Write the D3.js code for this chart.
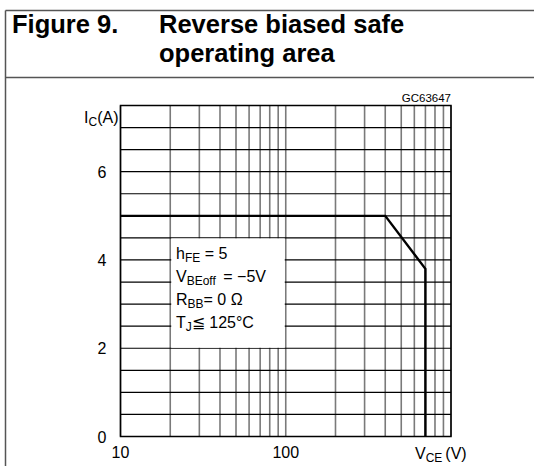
<!DOCTYPE html>
<html><head><meta charset="utf-8">
<script src="https://cdn.jsdelivr.net/npm/d3@7"></script>
<style>body{margin:0;background:#fff}svg{display:block}</style>
</head><body>
<script>
// ---- data ----
const soaVoltage = [10, 400, 700, 700];   // V_CE (V)
const soaCurrent = [5, 5, 3.8, 0];        // I_C (A)
const xTickLabels = [10, 100];
const yTickLabels = [0, 2, 4, 6];
const xGridValues = [10,20,30,40,50,60,70,80,90,100,200,300,400,500,600,700,800,900,1000];
const yGridValues = [0,0.5,1,1.5,2,2.5,3,3.5,4,4.5,5,5.5,6,6.5,7,7.5];
const noteBox = {v0: 20, v1: 100, i0: 2.0, i1: 4.5};

const W = 534, H = 466;
const svg = d3.select("body").append("svg").attr("width", W).attr("height", H);
const font = "'Liberation Sans', Arial, sans-serif";

// frame of figure
svg.append("line").attr("x1",5.5).attr("x2",W).attr("y1",10.5).attr("y2",10.5).attr("stroke","#555").attr("stroke-width",1.5);
svg.append("line").attr("x1",5.5).attr("x2",W).attr("y1",77.5).attr("y2",77.5).attr("stroke","#555").attr("stroke-width",1.5);
svg.append("line").attr("x1",5.5).attr("x2",5.5).attr("y1",10.5).attr("y2",H).attr("stroke","#555").attr("stroke-width",1.5);

// title
const t = svg.append("g").attr("font-family", font).attr("font-weight","bold").attr("font-size",25.5).attr("fill","#000");
t.append("text").attr("x",12).attr("y",33).text("Figure 9.");
t.append("text").attr("x",159).attr("y",33).text("Reverse biased safe");
t.append("text").attr("x",159).attr("y",62).text("operating area");

// scales
const x = d3.scaleLog().domain([10, 1000]).range([120.5, 451]);
const y = d3.scaleLinear().domain([0, 7.5]).range([436.5, 105.5]);

// vertical grid
svg.append("g").selectAll("line").data(xGridValues).join("line")
  .attr("x1", d => x(d)).attr("x2", d => x(d))
  .attr("y1", y(0)).attr("y2", y(7.5))
  .attr("stroke", "#7a7a7a").attr("stroke-width", 1.6);
// horizontal grid
svg.append("g").selectAll("line").data(yGridValues).join("line")
  .attr("x1", x(10)).attr("x2", x(1000))
  .attr("y1", d => y(d)).attr("y2", d => y(d))
  .attr("stroke", "#000").attr("stroke-width", 1.2);

// frame
svg.append("rect").attr("x", x(10)).attr("y", y(7.5))
  .attr("width", x(1000) - x(10)).attr("height", y(0) - y(7.5))
  .attr("fill","none").attr("stroke","#000").attr("stroke-width",1.5);

// note box
svg.append("rect").attr("x", x(noteBox.v0)+1).attr("y", y(noteBox.i1)+0.5)
  .attr("width", x(noteBox.v1) - x(noteBox.v0) - 2).attr("height", y(noteBox.i0) - y(noteBox.i1) - 1)
  .attr("fill","#fff");

// SOA curve
const line = d3.line().x(d => x(d[0])).y(d => y(d[1]));
svg.append("path").datum(soaVoltage.map((v,i)=>[v, soaCurrent[i]]))
  .attr("d", line).attr("fill","none").attr("stroke","#000").attr("stroke-width",2.4);

// tick labels
const lab = svg.append("g").attr("font-family", font).attr("font-size",16).attr("fill","#000");
lab.selectAll("text.yt").data(yTickLabels).join("text").attr("class","yt")
  .attr("x", 102).attr("y", d => y(d) + 6).attr("text-anchor","middle").text(d => d);
lab.selectAll("text.xt").data(xTickLabels).join("text").attr("class","xt")
  .attr("x", d => x(d)).attr("y", 458).attr("text-anchor","middle").text(d => d);

// axis titles
const ic = lab.append("text").attr("x", 84).attr("y", 123);
ic.append("tspan").text("I");
ic.append("tspan").attr("font-size",12).attr("dy",3).text("C");
ic.append("tspan").attr("dy",-3).text("(A)");

const vce = lab.append("text").attr("x", 415).attr("y", 459);
vce.append("tspan").text("V");
vce.append("tspan").attr("font-size",12).attr("dy",3).text("CE");
vce.append("tspan").attr("dy",-3).attr("dx",3).text("(V)");

svg.append("text").attr("x", 451).attr("y", 102).attr("text-anchor","end")
  .attr("font-family", font).attr("font-size", 11.5).attr("fill","#000").text("GC63647");

// note text
const nt = lab.append("g");
function sub(yy, main, subs, rest, gap){
  const tx = nt.append("text").attr("x", 176).attr("y", yy);
  tx.append("tspan").text(main);
  tx.append("tspan").attr("font-size",12).attr("dy",3).text(subs);
  tx.append("tspan").attr("dy",-3).attr("dx", gap || 0).text(rest);
}
sub(259, "h", "FE", " = 5");
sub(282, "V", "BEoff", " =  \u22125V", 3);
sub(305, "R", "BB", "= 0 \u03A9");
sub(328, "T", "J", "\u2266 125\u00B0C");
</script>
</body></html>
